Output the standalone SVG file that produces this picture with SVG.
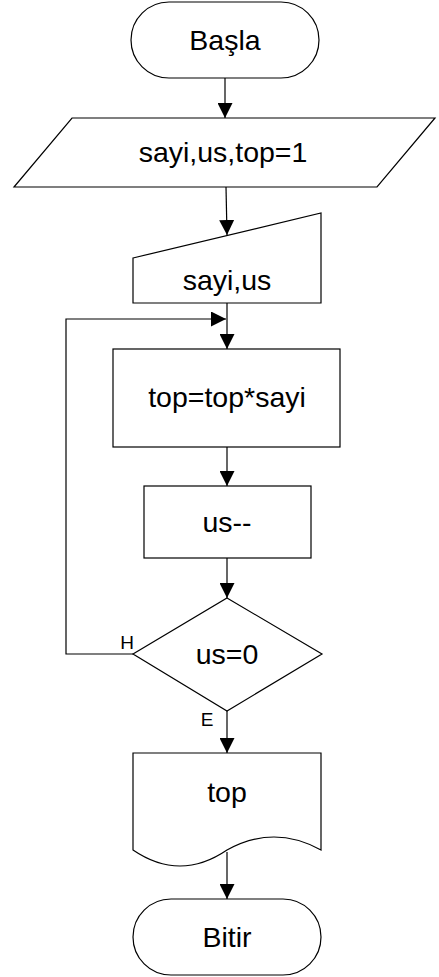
<svg xmlns="http://www.w3.org/2000/svg" width="439" height="977" viewBox="0 0 439 977">
<defs>
<style>
.s{fill:#fff;stroke:#000;stroke-width:1.2}
.c{fill:none;stroke:#000;stroke-width:1.2}
.t{font-family:"Liberation Sans",Arial,sans-serif;font-size:28.5px;text-anchor:middle;fill:#000}
.l{font-family:"Liberation Sans",Arial,sans-serif;font-size:19px;text-anchor:middle;fill:#000}
</style>
<marker id="a" markerWidth="15" markerHeight="15" viewBox="0 0 15 15" refX="15" refY="7.5" orient="auto" markerUnits="userSpaceOnUse">
<path d="M0,0 L15,7.5 L0,15 Z" fill="#000"/>
</marker>
</defs>
<rect width="439" height="977" fill="#fff"/>
<g id="connectors">
<line class="c" x1="225" y1="78" x2="225" y2="118" marker-end="url(#a)"/>
<line class="c" x1="226" y1="187" x2="227" y2="235" marker-end="url(#a)"/>
<line class="c" x1="227" y1="303" x2="227" y2="349" marker-end="url(#a)"/>
<line class="c" x1="227" y1="447" x2="227" y2="486" marker-end="url(#a)"/>
<line class="c" x1="227" y1="558" x2="227" y2="598" marker-end="url(#a)"/>
<line class="c" x1="227" y1="711" x2="227" y2="753" marker-end="url(#a)"/>
<line class="c" x1="227" y1="852" x2="227" y2="899" marker-end="url(#a)"/>
<polyline class="c" points="133,654 66,654 66,319 226,319" marker-end="url(#a)"/>
<text class="l" x="127" y="649">H</text>
<text class="l" x="207" y="726">E</text>
</g>
<g id="start">
<rect class="s" x="131" y="2" width="188" height="76" rx="38" ry="38"/>
<text class="t" x="225" y="50">Başla</text>
</g>
<g id="init">
<polygon class="s" points="72,118 435,118 377,187 14,187"/>
<text class="t" x="223" y="162">sayi,us,top=1</text>
</g>
<g id="input">
<polygon class="s" points="133,258 321,213 321,303 133,303"/>
<text class="t" x="227" y="290">sayi,us</text>
</g>
<g id="mult">
<rect class="s" x="113" y="349" width="227" height="98"/>
<text class="t" x="227" y="407">top=top*sayi</text>
</g>
<g id="dec">
<rect class="s" x="144" y="486" width="167" height="72"/>
<text class="t" x="227" y="532">us--</text>
</g>
<g id="cond">
<polygon class="s" points="227,598 322,654 227,711 133,654"/>
<text class="t" x="227" y="664">us=0</text>
</g>
<g id="output">
<path class="s" d="M133,753 L321,753 L321,850 Q274,824 227,850 Q180,882 133,850 Z"/>
<text class="t" x="227" y="802">top</text>
</g>
<g id="end">
<rect class="s" x="133" y="899" width="188" height="76" rx="38" ry="38"/>
<text class="t" x="227" y="947">Bitir</text>
</g>
</svg>
